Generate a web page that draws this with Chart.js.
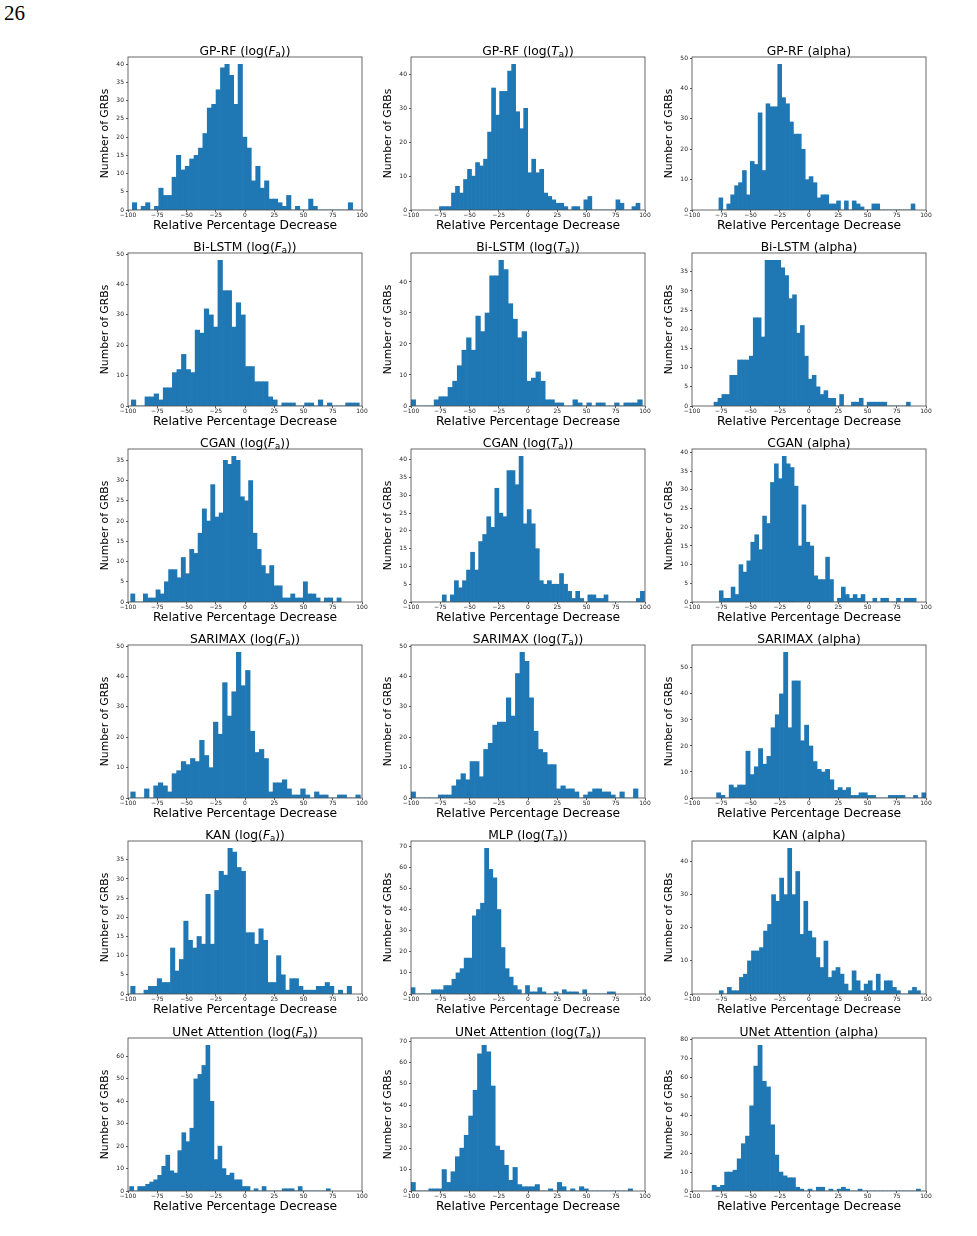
<!DOCTYPE html>
<html>
<head>
<meta charset="utf-8">
<script src="https://cdn.jsdelivr.net/npm/chart.js@4.4.1/dist/chart.umd.min.js"></script>
<style>
  body { margin: 0; background: #fff; }
  #page { position: relative; width: 977px; height: 1236px; overflow: hidden; }
  #pageNum { position: absolute; left: 4px; top: 1px; font-family: 'Liberation Serif', serif; font-size: 21px; color: #000; }
  canvas { position: absolute; }
</style>
</head>
<body>
<div id="page"><div id="pageNum">26</div></div>
<script>
// histogram counts, 50 bins each
const gprfFa = [2,0,1,2,0,1,6,4,4,9, 15,11,12,14,15,17,21,28,29,33, 39,40,37,29,40,20,17,8,12,6, 8,3,3,2,1,4,0,1,0,0, 3,1,0,0,0,0,0,0,0,2];
const gprfTa = [1,1,1,5,7,5,9,12,10,14, 13,15,23,36,28,35,35,41,43,29, 24,30,11,15,11,12,5,4,3,2, 2,1,0,1,1,0,3,4,0,0, 0,0,0,0,3,2,0,0,1,2];
const gprfAlpha = [4,0,2,5,8,9,13,5,16,15, 32,13,35,34,34,48,37,35,29,25, 25,20,10,11,9,4,5,5,2,2, 3,0,3,0,3,2,1,0,0,2, 2,0,0,0,0,0,0,0,0,2];
const bilstmFa = [2,0,0,3,3,4,2,6,6,11, 12,17,12,11,25,24,32,30,26,48, 38,38,26,34,30,13,13,8,8,8, 3,2,0,1,1,1,0,0,1,1, 0,2,0,1,0,0,0,1,1,1];
const bilstmTa = [2,0,0,0,0,2,3,3,6,8, 13,18,22,18,29,24,30,42,42,47, 44,33,28,22,24,8,9,11,8,2, 2,1,1,0,0,2,1,0,1,0, 1,1,0,0,1,0,1,1,1,2];
const bilstmAlpha = [1,2,3,3,8,8,12,12,12,13, 23,23,18,38,38,38,38,36,34,28, 29,19,21,13,7,8,5,3,4,2, 2,0,3,0,0,1,1,2,0,1, 1,1,1,1,0,0,0,0,0,1];
const cganFa = [2,0,0,2,1,1,3,2,5,8, 8,6,11,7,13,12,17,23,20,29, 21,22,35,34,36,35,26,25,30,17, 13,9,7,9,4,4,1,1,2,1, 1,5,2,2,1,0,1,1,0,1];
const cganTa = [2,0,2,6,4,6,9,14,9,17, 19,24,21,32,25,24,37,37,33,41, 22,26,22,15,6,5,6,5,5,8, 5,3,1,3,1,0,2,2,1,1, 2,0,0,0,0,0,0,0,1,3];
const cganAlpha = [3,1,1,4,2,10,8,11,16,18, 14,23,21,32,37,33,39,37,36,31, 15,26,16,15,7,6,6,12,6,0, 1,4,2,1,2,1,2,0,0,1, 0,1,1,0,0,1,0,1,1,1];
const sarimaxFa = [2,0,0,3,0,4,5,4,2,8, 9,12,11,13,12,19,14,10,25,21, 38,27,35,48,37,42,22,15,16,13, 2,5,5,6,3,1,1,3,1,0, 2,1,1,0,0,1,1,0,0,1];
const sarimaxTa = [2,0,0,0,0,0,1,1,1,4, 6,8,6,12,12,7,16,18,24,25, 25,33,27,41,48,45,33,22,16,15, 11,11,3,4,3,3,2,0,1,2, 3,3,2,2,1,0,2,0,0,3];
const sarimaxAlpha = [2,1,0,5,4,5,5,18,9,12, 19,13,16,27,32,40,56,27,45,45, 22,28,20,14,11,10,11,7,3,4, 3,4,1,1,2,2,1,1,0,0, 0,1,1,1,1,0,0,1,0,2];
const kanFa = [2,0,0,1,2,2,4,3,3,12, 6,9,19,14,12,15,13,26,13,27, 32,31,38,37,33,32,16,16,13,17, 14,3,3,10,5,1,4,4,2,1, 1,1,2,2,3,2,0,1,0,2];
const mlpTa = [3,0,0,0,0,2,2,2,4,4, 7,10,12,17,17,37,40,43,69,59, 55,40,22,12,8,4,2,0,4,1, 1,3,1,0,0,1,0,2,1,1, 1,0,2,0,0,0,0,0,1,1];
const kanAlpha = [1,0,2,1,1,5,6,10,13,13, 14,19,21,30,28,35,30,44,30,37, 18,28,19,17,11,8,16,5,7,8, 6,3,1,7,4,1,3,4,1,6, 1,4,4,2,1,0,0,1,2,1];
const unetFa = [2,0,2,2,3,4,5,7,11,16, 9,8,18,26,22,28,50,52,56,65, 40,14,20,10,7,8,5,5,2,2, 0,1,0,2,0,0,0,0,1,1, 1,0,2,0,0,0,0,0,0,1];
const unetTa = [4,0,0,0,1,1,1,10,4,9, 16,20,26,35,47,64,68,65,49,21, 19,12,5,11,3,2,2,2,3,0, 0,1,0,4,2,0,1,0,2,1, 0,0,0,0,0,0,0,0,0,1];
const unetAlpha = [3,2,3,10,10,11,17,25,29,45, 66,77,58,55,35,19,10,8,7,7, 2,1,0,1,0,2,2,0,1,0, 1,2,1,0,0,1,0,0,0,0, 0,0,0,0,0,0,0,0,0,1];

const panelCounts = [gprfFa, gprfTa, gprfAlpha, bilstmFa, bilstmTa, bilstmAlpha,
  cganFa, cganTa, cganAlpha, sarimaxFa, sarimaxTa, sarimaxAlpha,
  kanFa, mlpTa, kanAlpha, unetFa, unetTa, unetAlpha];

// edges of the first and last bin of each histogram
const binLo = [-96.3, -75.7, -77.0, -97.2, -100, -81.2, -97.7, -73.3, -76.7, -97.7, -100, -79.0, -97.7, -100, -76.7, -98.6, -100, -82.8];
const binHi = [92.0, 95.7, 90.6, 97.7, 97.7, 86.6, 82.2, 99.5, 91.6, 98.6, 94.0, 100, 91.1, 74.7, 95.3, 72.9, 89.4, 95.3];

const panelModels = ['GP-RF', 'GP-RF', 'GP-RF', 'Bi-LSTM', 'Bi-LSTM', 'Bi-LSTM',
  'CGAN', 'CGAN', 'CGAN', 'SARIMAX', 'SARIMAX', 'SARIMAX',
  'KAN', 'MLP', 'KAN', 'UNet Attention', 'UNet Attention', 'UNet Attention'];
const columnParams = ['F', 'T', 'alpha'];
const yTickSteps = [5, 10, 10, 10, 10, 5, 5, 5, 5, 10, 10, 10, 5, 10, 10, 10, 10, 10];
const xTicks = [-100, -75, -50, -25, 0, 25, 50, 75, 100];

const xLabel = 'Relative Percentage Decrease';
const yLabel = 'Number of GRBs';

// layout
const colLefts = [128, 411, 692];
const plotW = 234, plotH = 153;
const padL = 30, padT = 22, padR = 10, padB = 26;

Chart.defaults.font.family = "'DejaVu Sans', sans-serif";
Chart.defaults.color = '#222';

// draws the four spines and the title with math-style sub/italic pieces
const frameAndTitle = {
  id: 'frameAndTitle',
  afterDraw(chart, args, opts) {
    const { ctx, chartArea: a } = chart;
    ctx.save();
    ctx.strokeStyle = '#444';
    ctx.lineWidth = 0.8;
    ctx.strokeRect(a.left, a.top, a.right - a.left, a.bottom - a.top);

    const fam = "'DejaVu Sans', sans-serif";
    const size = 12.3;
    const fonts = p => p.sub ? (size * 0.7) + 'px ' + fam : (p.it ? 'italic ' : '') + size + 'px ' + fam;
    let total = 0;
    opts.parts.forEach(p => { ctx.font = fonts(p); p.w = ctx.measureText(p.t).width; total += p.w; });
    let x = (a.left + a.right) / 2 - total / 2;
    const y = a.top - 2.5;
    ctx.fillStyle = '#000';
    ctx.textAlign = 'left';
    ctx.textBaseline = 'alphabetic';
    opts.parts.forEach(p => {
      ctx.font = fonts(p);
      ctx.fillText(p.t, x, p.sub ? y + 2.6 : y);
      x += p.w;
    });
    ctx.restore();
  }
};

const page = document.getElementById('page');

panelCounts.forEach((counts, i) => {
  const row = Math.floor(i / 3), col = i % 3;
  const plotLeft = colLefts[col];
  const plotTop = Math.round(56.5 + row * 196.2);

  const cv = document.createElement('canvas');
  cv.width = padL + plotW + padR;
  cv.height = padT + plotH + padB;
  cv.style.left = (plotLeft - padL) + 'px';
  cv.style.top = (plotTop - padT) + 'px';
  page.appendChild(cv);

  const n = counts.length;
  const w = (binHi[i] - binLo[i]) / n;
  const pts = counts.map((c, k) => ({ x: binLo[i] + (k + 0.5) * w, y: c }));
  const step = yTickSteps[i];
  const ymax = Math.max(...counts) * 1.05;

  const param = columnParams[col];
  const parts = param === 'alpha'
    ? [{ t: panelModels[i] + ' (alpha)' }]
    : [{ t: panelModels[i] + ' (log(' }, { t: param, it: true }, { t: 'a', sub: true }, { t: '))' }];

  new Chart(cv, {
    type: 'bar',
    data: {
      datasets: [{
        data: pts,
        backgroundColor: '#1f77b4',
        borderWidth: 0,
        barPercentage: 1,
        categoryPercentage: 1
      }]
    },
    options: {
      responsive: false,
      animation: false,
      layout: { padding: { top: padT, right: padR, left: 0, bottom: 0 } },
      plugins: {
        legend: { display: false },
        tooltip: { enabled: false },
        frameAndTitle: { parts }
      },
      scales: {
        x: {
          type: 'linear',
          min: -100,
          max: 100,
          offset: false,
          grid: { display: true, drawOnChartArea: false, drawTicks: true, tickLength: 2, color: '#333', lineWidth: 0.8, offset: false },
          border: { display: false },
          afterBuildTicks: s => { s.ticks = xTicks.map(v => ({ value: v })); },
          ticks: {
            maxRotation: 0,
            autoSkip: false,
            padding: 0,
            font: { size: 6 },
            callback: v => v < 0 ? '\u2212' + Math.abs(v) : String(v)
          },
          title: { display: true, text: xLabel, color: '#000', font: { size: 12.3 }, padding: { top: 0, bottom: 2.5 } },
          afterFit: s => { s.height = padB; }
        },
        y: {
          min: 0,
          max: ymax,
          grid: { display: true, drawOnChartArea: false, drawTicks: true, tickLength: 2, color: '#333', lineWidth: 0.8 },
          border: { display: false },
          afterBuildTicks: s => {
            const t = [];
            for (let v = 0; v <= ymax; v += step) t.push({ value: v });
            s.ticks = t;
          },
          ticks: { padding: 2, font: { size: 6 } },
          title: { display: true, text: yLabel, color: '#000', font: { size: 10.8 }, padding: { top: 0.5, bottom: 0 } },
          afterFit: s => { s.width = padL; }
        }
      }
    },
    plugins: [frameAndTitle]
  });
});
</script>
</body>
</html>
